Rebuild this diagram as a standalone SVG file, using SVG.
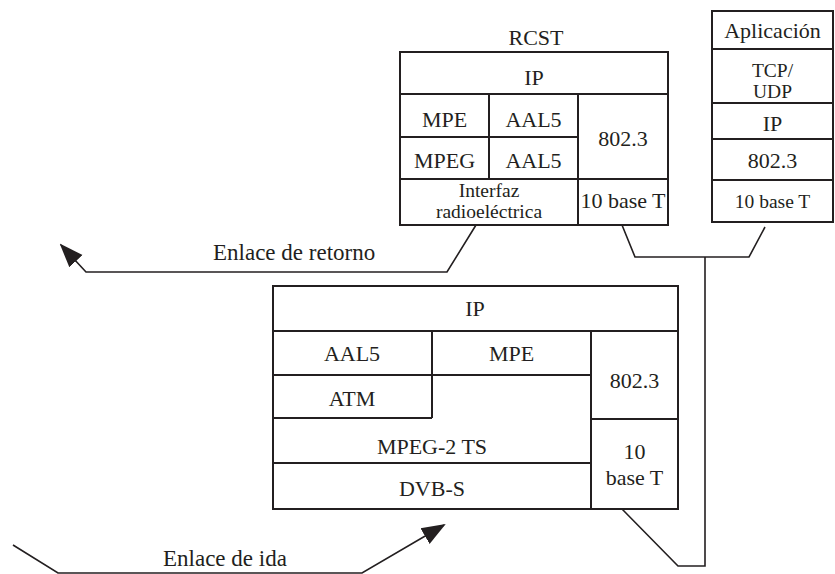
<svg xmlns="http://www.w3.org/2000/svg" width="835" height="574" viewBox="0 0 835 574">
  <style>
    text { font-family: 'Liberation Serif', 'DejaVu Serif', serif; font-size: 22px; fill: #231f20; text-anchor: middle; }
    .small { font-size: 19.5px; }
    .link { text-anchor: start; font-size: 23px; }
    .box { fill: #ffffff; stroke: #231f20; stroke-width: 2; }
    .div { stroke: #231f20; stroke-width: 2; fill: none; }
    .wire { stroke: #231f20; stroke-width: 1.6; fill: none; }
  </style>
  <defs>
    <marker id="arrow" markerUnits="userSpaceOnUse" markerWidth="24" markerHeight="20" viewBox="0 0 24 20" refX="22" refY="10" orient="auto">
      <path d="M0,1 L24,10 L0,19 Z" fill="#231f20"/>
    </marker>
  </defs>
  <rect width="835" height="574" fill="#ffffff"/>

  <!-- connectors -->
  <g id="connectors">
    <!-- return link from the radio interface -->
    <polyline class="wire" points="476,225 447,272 86,272 61,245" marker-end="url(#arrow)"/>
    <!-- forward link into the DVB-S stack -->
    <polyline class="wire" points="13,545 58,573 362,573 444,525" marker-end="url(#arrow)"/>
    <!-- Ethernet segment joining the three 10 base T ports -->
    <polyline class="wire" points="622,225 635,257 749,257 765,227"/>
    <polyline class="wire" points="622,509 678,566 705,566 705,257"/>
  </g>

  <!-- RCST stack -->
  <g id="rcst" font-family="Liberation Serif, serif">
    <text x="536" y="45">RCST</text>
    <rect class="box" x="400" y="52" width="268" height="173"/>
    <path class="div" d="M400,94 H668 M400,137 H578 M400,179 H668 M489,94 V179 M578,94 V225"/>
    <text x="534" y="85">IP</text>
    <text x="444.5" y="127">MPE</text>
    <text x="533.5" y="127">AAL5</text>
    <text x="444.5" y="168">MPEG</text>
    <text x="533.5" y="168">AAL5</text>
    <text x="623" y="146">802.3</text>
    <text class="small" x="489" y="197">Interfaz</text>
    <text class="small" x="489" y="218">radioeléctrica</text>
    <text x="623" y="208">10 base T</text>
  </g>

  <!-- host stack -->
  <g id="host">
    <rect class="box" x="712" y="11" width="121" height="211"/>
    <path class="div" d="M712,49 H833 M712,103 H833 M712,139 H833 M712,180 H833"/>
    <text x="772.5" y="38">Aplicación</text>
    <text class="small" x="772.5" y="77">TCP/</text>
    <text class="small" x="772.5" y="98">UDP</text>
    <text x="772.5" y="131">IP</text>
    <text x="772.5" y="168">802.3</text>
    <text class="small" x="772.5" y="208">10 base T</text>
  </g>

  <!-- gateway stack -->
  <g id="gateway">
    <rect class="box" x="273" y="286" width="405" height="223"/>
    <path class="div" d="M273,331 H678 M273,375 H591 M273,418 H432 M591,419 H678 M273,463 H591 M432,331 V418 M591,331 V509"/>
    <text x="475" y="316">IP</text>
    <text x="352" y="361">AAL5</text>
    <text x="511.5" y="361">MPE</text>
    <text x="352" y="406">ATM</text>
    <text x="634.5" y="388">802.3</text>
    <text x="432" y="454">MPEG-2 TS</text>
    <text x="432" y="496">DVB-S</text>
    <text x="634.5" y="459">10</text>
    <text x="634.5" y="485">base T</text>
  </g>

  <!-- link labels -->
  <g id="labels">
    <text class="link" x="213" y="260">Enlace de retorno</text>
    <text class="link" x="163" y="566">Enlace de ida</text>
  </g>
</svg>
